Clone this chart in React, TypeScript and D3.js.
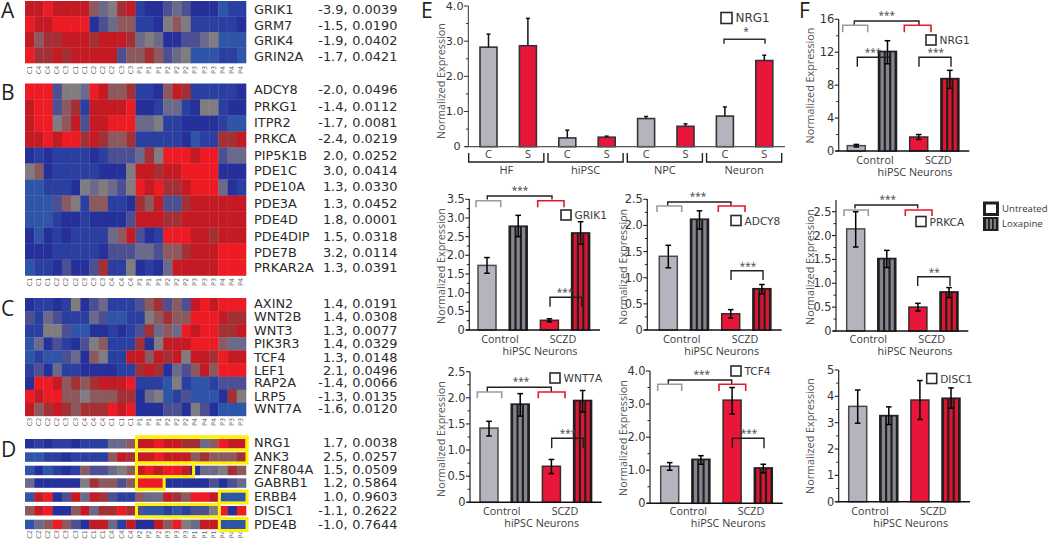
import React from "react";
import * as d3 from "d3";

// ---------- heat-map data (0 = deep blue ... 9 = bright red) ----------
const genesA = ["GRIK1", "GRM7", "GRIK4", "GRIN2A"];
const foldA = ["-3.9", "-1.5", "-1.9", "-1.7"];
const pA = ["0.0039", "0.0190", "0.0402", "0.0421"];
const colsA = ["C1","C4","C4","C4","C3","C1","C1","C2","C2","C2","C3","C3","P1","P1","P1","P2","P2","P2","P3","P3","P3","P4","P4","P4"];
const heatA = [
  [8,8,9,8,8,8,8,6,4,5,7,8,1,0,0,3,4,3,0,0,0,2,1,1],
  [9,8,8,9,9,9,9,0,3,4,6,6,1,1,0,5,6,5,1,1,1,1,1,0],
  [8,6,7,7,8,8,8,7,8,8,8,7,4,5,4,0,0,3,3,4,5,2,2,2],
  [9,7,7,8,7,8,8,8,8,8,3,6,6,7,6,3,4,5,2,2,2,1,1,2],
];
const genesB = ["ADCY8","PRKG1","ITPR2","PRKCA","PIP5K1B","PDE1C","PDE10A","PDE3A","PDE4D","PDE4DIP","PDE7B","PRKAR2A"];
const foldB = ["-2.0","-1.4","-1.7","-2.4","2.0","3.0","1.3","1.3","1.8","1.5","3.2","1.3"];
const pB = ["0.0496","0.0112","0.0081","0.0219","0.0252","0.0414","0.0330","0.0452","0.0001","0.0318","0.0114","0.0391"];
const colsB = ["C1","C1","C1","C2","C2","C2","C3","C3","C3","C4","C4","C4","P1","P1","P1","P2","P2","P2","P3","P3","P3","P4","P4","P4"];
const heatB = [
  [9,9,9,3,5,5,4,9,8,6,6,7,1,1,0,6,8,7,1,1,1,1,1,0],
  [8,9,9,3,6,7,1,8,8,8,8,9,0,0,1,4,4,1,0,5,5,1,0,0],
  [8,9,9,5,6,8,3,8,8,9,9,9,4,4,5,1,1,0,0,0,0,1,2,2],
  [8,8,9,8,9,9,7,8,7,6,6,7,1,1,1,1,1,0,2,1,1,7,7,8],
  [0,1,0,1,1,1,1,0,1,3,3,3,4,7,5,9,9,9,8,9,9,3,4,4],
  [5,6,0,1,1,1,1,1,0,0,0,5,8,8,7,8,8,9,9,9,9,0,0,0],
  [2,2,1,1,1,0,5,4,5,4,3,5,9,8,9,7,7,8,9,9,9,4,0,1],
  [2,2,2,3,6,5,1,6,6,1,1,0,7,6,8,3,3,7,8,8,8,8,8,8],
  [2,2,2,1,0,0,1,0,0,0,0,3,8,8,8,7,7,8,8,8,8,8,8,8],
  [0,2,0,1,0,1,1,1,1,4,6,8,3,0,1,9,9,9,8,8,7,8,8,8],
  [0,0,0,1,1,1,1,1,0,3,3,3,4,4,3,6,6,7,8,8,8,9,9,9],
  [2,1,1,0,3,0,0,3,7,1,1,5,0,1,0,4,8,8,8,8,8,9,9,9],
];
const genesC = ["AXIN2","WNT2B","WNT3","PIK3R3","TCF4","LEF1","RAP2A","LRP5","WNT7A"];
const foldC = ["1.4","1.4","1.3","1.4","1.3","2.1","-1.4","-1.3","-1.6"];
const pC = ["0.0191","0.0308","0.0077","0.0329","0.0148","0.0496","0.0066","0.0135","0.0120"];
const colsC = ["C3","C2","C2","C2","C3","C3","C4","C4","C4","C1","C1","C1","P1","P1","P1","P2","P2","P2","P4","P4","P4","P3","P3","P3"];
const heatC = [
  [0,1,1,0,1,5,0,3,4,1,1,1,3,6,7,3,6,3,8,9,8,9,9,9],
  [3,1,4,3,1,1,1,4,3,2,2,1,1,5,6,7,6,6,9,9,9,8,7,7],
  [1,1,5,5,3,2,2,0,0,1,0,1,3,7,4,6,4,9,8,9,9,7,7,8],
  [2,4,0,3,1,0,3,5,6,1,1,1,7,0,5,8,8,8,9,9,9,6,4,4],
  [2,1,2,2,3,4,0,6,5,1,1,8,8,6,8,7,8,5,8,8,7,9,8,8],
  [1,3,0,4,1,1,0,0,0,0,1,1,7,8,7,0,4,3,6,8,6,9,9,9],
  [0,9,9,8,6,7,6,7,8,8,8,9,1,1,1,2,5,1,2,2,1,3,3,3],
  [9,8,9,9,6,6,5,6,6,6,7,7,0,4,5,2,1,3,2,2,2,0,7,5],
  [8,6,7,8,7,6,7,7,7,9,8,9,0,0,0,3,3,0,5,3,0,2,2,2],
];
const genesD = ["NRG1","ANK3","ZNF804A","GABRB1","ERBB4","DISC1","PDE4B"];
const foldD = ["1.7","2.5","1.5","1.2","1.0","-1.1","-1.0"];
const pD = ["0.0038","0.0257","0.0509","0.5864","0.9603","0.2622","0.7644"];
const colsD = ["C2","C2","C2","C3","C3","C3","C1","C1","C1","C4","C4","C4","P2","P2","P2","P3","P3","P3","P1","P1","P1","P4","P4","P4"];
const heatD = [
  [0,1,0,1,1,0,1,1,1,4,4,6,8,8,9,8,8,7,7,4,6,9,8,8],
  [2,2,1,1,0,1,1,1,1,6,8,7,8,8,9,8,8,8,6,7,6,6,6,7],
  [2,0,2,1,0,1,6,3,3,4,5,6,8,9,8,9,9,8,0,4,4,5,7,6],
  [4,0,0,0,0,0,5,7,6,6,3,6,9,9,9,0,0,0,0,0,3,0,3,4],
  [2,8,9,0,3,8,4,8,7,3,1,1,6,4,4,8,7,6,9,9,8,2,2,2],
  [6,8,9,0,0,6,8,4,7,7,9,7,3,2,2,1,2,1,3,3,5,9,0,9],
  [2,4,6,9,6,3,0,8,8,4,1,8,0,0,8,6,9,5,4,8,8,2,2,2],
];

// ---------- bar data ----------
const groupsE = ["HF", "hiPSC", "NPC", "Neuron"];
const stageBars = ["C", "S", "C", "S", "C", "S", "C", "S"];
const nrg1Stage = [2.83, 2.87, 0.25, 0.27, 0.8, 0.58, 0.87, 2.45];
const nrg1StageTop = [3.2, 3.65, 0.47, 0.3, 0.86, 0.65, 1.13, 2.6];

const treatBars = ["Control", "Control+Lox", "SCZD", "SCZD+Lox"];
const grik1 = [1.73, 2.78, 0.26, 2.6];
const grik1Lo = [1.52, 2.5, 0.22, 2.3];
const grik1Hi = [1.94, 3.07, 0.3, 2.9];
const adcy8 = [1.41, 2.12, 0.31, 0.79];
const adcy8Lo = [1.19, 1.93, 0.23, 0.69];
const adcy8Hi = [1.62, 2.28, 0.39, 0.87];
const wnt7a = [1.42, 1.88, 0.69, 1.95];
const wnt7aLo = [1.27, 1.65, 0.55, 1.73];
const wnt7aHi = [1.55, 2.08, 0.82, 2.14];
const tcf4 = [1.12, 1.33, 3.12, 1.07];
const tcf4Lo = [1.0, 1.18, 2.7, 0.92];
const tcf4Hi = [1.23, 1.44, 3.5, 1.18];
const nrg1F = [0.65, 12.1, 1.7, 8.8];
const nrg1FLo = [0.5, 10.6, 1.4, 7.6];
const nrg1FHi = [0.8, 13.4, 2.0, 9.8];
const prkca = [2.14, 1.52, 0.5, 0.82];
const prkcaLo = [1.76, 1.33, 0.42, 0.7];
const prkcaHi = [2.5, 1.69, 0.58, 0.91];
const disc1 = [3.62, 3.27, 3.86, 3.93];
const disc1Lo = [2.98, 2.93, 3.12, 3.55];
const disc1Hi = [4.24, 3.6, 4.6, 4.32];

// ---------- styles ----------
const SANS = "'Open Sans', 'Noto Sans', sans-serif";
const DEJA = "'DejaVu Sans', Verdana, sans-serif";
const TXT = "#3a3a3a";
const GREY = "#b4b4be";
const RED = "#e8173a";
const DARK = "#231f20";

const heatColor = d3
  .scaleLinear<string>()
  .domain([0, 1, 2, 3, 4, 5, 6, 7, 8, 9])
  .range(["#26309a", "#2a3f9f", "#2f55a8", "#4d4f93", "#6b6a8a", "#807c80", "#8c5a5e", "#a33035", "#c41a24", "#ed1c24"]);

function Heat({ rows, cols, y0, rowH, labelY }: any) {
  const x = d3.scaleBand<number>().domain(d3.range(24)).range([25, 246]);
  const y = d3.scaleBand<number>().domain(d3.range(rows.length)).range([y0, y0 + rowH * rows.length]);
  return (
    <g>
      {rows.map((r: number[], i: number) => (
        <g key={i}>
          {r.map((v, j) => (
            <rect key={j} x={x(j)} y={y(i)} width={x.bandwidth() + 0.3} height={y.bandwidth() + 0.3} fill={heatColor(v)} />
          ))}
        </g>
      ))}
      {cols.map((c: string, j: number) => (
        <text key={j} transform={`translate(${x(j)! + x.bandwidth() / 2 + 2},${labelY}) rotate(-90)`} textAnchor="middle" fontFamily={DEJA} fontSize={6.5} fill="#666">
          {c}
        </text>
      ))}
    </g>
  );
}

function Stats({ genes, fold, p, ys }: any) {
  return (
    <g fontFamily={DEJA} fontSize={12.9} fill="#2b2b2b">
      {genes.map((g: string, i: number) => (
        <g key={g}>
          <text x={254} y={ys[i]} dominantBaseline="central">{g}</text>
          <text x={347.5} y={ys[i]} textAnchor="end" dominantBaseline="central">{fold[i]},</text>
          <text x={352.3} y={ys[i]} dominantBaseline="central">{p[i]}</text>
        </g>
      ))}
    </g>
  );
}

const Letter = ({ x, y, t }: any) => (
  <text x={x} y={y} fontFamily={SANS} fontSize={21} fill="#222">{t}</text>
);

function Bracket({ x1, x2, y, drop, color = DARK, w = 1.4 }: any) {
  const p = d3.path();
  p.moveTo(x1, y + drop);
  p.lineTo(x1, y);
  p.lineTo(x2, y);
  p.lineTo(x2, y + drop);
  return <path d={p.toString()} fill="none" stroke={color} strokeWidth={w} />;
}

const Stars = ({ x, y, t = "***" }: any) => (
  <text x={x} y={y + 4} textAnchor="middle" fontFamily={SANS} fontSize={10} fill="#444">{t}</text>
);

const LegendBox = ({ x, y, label, size = 10, fs = 10.6 }: any) => (
  <g>
    <rect x={x} y={y} width={size} height={size} fill="#fff" stroke="#2a2a2a" strokeWidth={1.6} />
    <text x={x + size + 3.5} y={y + size / 2} dominantBaseline="central" fontFamily={DEJA} fontSize={fs} fill={TXT}>{label}</text>
  </g>
);

function TreatPanel({ L, values, lo, hi, label }: any) {
  const y = d3.scaleLinear().domain([0, L.max]).range([L.y0, L.yTop]);
  const x = d3
    .scaleBand<string>()
    .domain(treatBars)
    .range([L.first, L.first + 3 * L.step + 18])
    .paddingInner((L.step - 18) / L.step);
  const w = x.bandwidth();
  const minor = L.majors.slice(0, -1).map((m: number, i: number) => (m + L.majors[i + 1]) / 2);
  return (
    <g>
      {treatBars.map((b, i) => {
        const X = x(b)!;
        const top = y(values[i]);
        const h = L.y0 - top;
        const base = i < 2 ? GREY : RED;
        const striped = i % 2 === 1;
        return (
          <g key={b}>
            <rect x={X} y={top} width={w} height={h} fill={striped ? DARK : base} stroke={i === 0 ? "#4a4a4a" : i === 2 ? "#3a2a2a" : DARK} strokeWidth={1.5} />
            {striped && [0.11, 0.41, 0.71].map((f) => (
              <rect key={f} x={X + f * w} y={top + 1} width={w * 0.18} height={h - 1} fill={i === 1 ? "#85858f" : "#dc1630"} />
            ))}
            <line x1={X + w / 2} x2={X + w / 2} y1={y(lo[i])} y2={y(hi[i])} stroke="#000" strokeWidth={1.5} />
            <line x1={X + w / 2 - 2.8} x2={X + w / 2 + 2.8} y1={y(hi[i])} y2={y(hi[i])} stroke="#000" strokeWidth={1.5} />
            <line x1={X + w / 2 - 2.8} x2={X + w / 2 + 2.8} y1={y(lo[i])} y2={y(lo[i])} stroke="#000" strokeWidth={1.5} />
          </g>
        );
      })}
      <line x1={L.ax} x2={L.ax} y1={L.y0} y2={L.axTop} stroke="#222" strokeWidth={1.2} />
      <line x1={L.ax - 3} x2={L.bx} y1={L.y0} y2={L.y0} stroke="#111" strokeWidth={1.5} />
      {L.majors.map((t: number) => (
        <g key={t}>
          <line x1={L.ax - 4} x2={L.ax} y1={y(t)} y2={y(t)} stroke="#222" strokeWidth={1.1} />
          <text x={L.ax - 4.5} y={y(t)} textAnchor="end" dominantBaseline="central" fontFamily={DEJA} fontSize={11.4} fill="#333">
            {t === 0 ? "0" : L.fmt ? d3.format(L.fmt)(t) : t}
          </text>
        </g>
      ))}
      {minor.map((t: number) => (
        <line key={t} x1={L.ax - 2.5} x2={L.ax} y1={y(t)} y2={y(t)} stroke="#222" strokeWidth={1} />
      ))}
      <text transform={`translate(${L.yl[0]},${L.yl[1]}) rotate(-90)`} textAnchor="middle" dominantBaseline="central" fontFamily={SANS} fontSize={10.8} fill="#555">
        Normalized Expression
      </text>
      <text x={L.ctl} y={L.cy} textAnchor="middle" dominantBaseline="central" fontFamily={SANS} fontSize={10.8} fill={TXT}>Control</text>
      <text x={L.scz} y={L.cy} textAnchor="middle" dominantBaseline="central" fontFamily={SANS} fontSize={10.8} fill={TXT}>SCZD</text>
      <text x={L.hip} y={L.cy + 12.5} textAnchor="middle" dominantBaseline="central" fontFamily={SANS} fontSize={10.8} fill={TXT}>hiPSC Neurons</text>
      {L.top && (
        <g>
          <Bracket {...L.top} />
          <Stars x={L.top.sx} y={L.top.y - 6} />
          <Bracket {...L.gb} color="#9a9aa2" w={1.6} />
          <Bracket {...L.rb} color="#e8162a" w={1.6} />
        </g>
      )}
      {(L.lower || []).map((b: any, i: number) => (
        <g key={i}>
          <Bracket {...b} />
          <Stars x={b.sx} y={b.y - 5} t={b.t} />
        </g>
      ))}
      <LegendBox x={L.lg[0]} y={L.lg[1]} label={label} />
    </g>
  );
}

const panelGRIK1 = {
  ax: 469.3, axTop: 199, y0: 330, yTop: 199.3, max: 3.5, majors: [0, 0.5, 1, 1.5, 2, 2.5, 3, 3.5], fmt: ".1f",
  bx: 600, first: 478, step: 31.2, yl: [440, 266], ctl: 500, scz: 563, hip: 540, cy: 338,
  top: { x1: 487.3, x2: 552, y: 196, drop: 3.6, sx: 520 },
  gb: { x1: 476, x2: 500.7, y: 200.7, drop: 6.5 }, rb: { x1: 537.7, x2: 564, y: 200.7, drop: 6.5 },
  lower: [{ x1: 550, x2: 581.7, y: 297.3, drop: 9.4, sx: 565 }], lg: [561, 210],
};
const panelADCY8 = {
  ax: 647.3, axTop: 199, y0: 330, yTop: 199.3, max: 2.5, majors: [0, 0.5, 1, 1.5, 2, 2.5], fmt: ".1f",
  bx: 781.7, first: 659.3, step: 31.2, yl: [622, 266.7], ctl: 681.7, scz: 745, hip: 721.7, cy: 338,
  top: { x1: 667.7, x2: 731, y: 202, drop: 3.5, sx: 698 },
  gb: { x1: 657, x2: 681.7, y: 206, drop: 6 }, rb: { x1: 718.3, x2: 745, y: 206, drop: 6 },
  lower: [{ x1: 731, x2: 763, y: 270.7, drop: 9.3, sx: 748 }], lg: [731, 215.5],
};
const panelWNT7A = {
  ax: 470, axTop: 371.7, y0: 502.3, yTop: 371.7, max: 2.5, majors: [0, 0.5, 1, 1.5, 2, 2.5], fmt: ".1f",
  bx: 601.7, first: 480, step: 31.2, yl: [440.7, 439], ctl: 501.7, scz: 565, hip: 541.7, cy: 510,
  top: { x1: 487.3, x2: 551.3, y: 387.3, drop: 4.7, sx: 521 },
  gb: { x1: 477.3, x2: 501.7, y: 392, drop: 6.3 }, rb: { x1: 538.3, x2: 565, y: 392, drop: 6.3 },
  lower: [{ x1: 551.7, x2: 583.3, y: 438.3, drop: 10, sx: 568 }], lg: [550, 373],
};
const panelTCF4 = {
  ax: 650, axTop: 371, y0: 503.3, yTop: 371, max: 4, majors: [0, 1, 2, 3, 4], fmt: ".1f",
  bx: 782.7, first: 660.7, step: 31.2, yl: [622.3, 438], ctl: 688.3, scz: 751, hip: 728.3, cy: 510,
  top: { x1: 668.3, x2: 731.7, y: 380, drop: 5, sx: 701.7 },
  gb: { x1: 657.7, x2: 681.7, y: 384.3, drop: 6.7 }, rb: { x1: 719, x2: 745.7, y: 384.3, drop: 6.7 },
  lower: [{ x1: 732.3, x2: 764, y: 438.3, drop: 10, sx: 749 }], lg: [731, 366],
};
const panelNRG1 = {
  ax: 838.7, axTop: 19.3, y0: 151, yTop: 19.3, max: 16, majors: [0, 4, 8, 12, 16],
  bx: 969.3, first: 847.3, step: 31.2, yl: [809.3, 85.5], ctl: 875, scz: 938.3, hip: 915, cy: 159.3,
  top: { x1: 854.3, x2: 919, y: 21, drop: 4, sx: 886.7 },
  gb: { x1: 842.7, x2: 867.7, y: 25.3, drop: 7 }, rb: { x1: 904.3, x2: 931, y: 25.3, drop: 7 },
  lower: [{ x1: 857.3, x2: 890, y: 57.3, drop: 9.4, sx: 873 }, { x1: 919, x2: 951, y: 57.3, drop: 9.4, sx: 935.7 }], lg: [926, 35],
};
const panelPRKCA = {
  ax: 836, axTop: 200, y0: 331, yTop: 211.7, max: 2.5, majors: [0, 0.5, 1, 1.5, 2, 2.5], fmt: ".1f",
  bx: 968.3, first: 846.7, step: 31.1, yl: [809.3, 267], ctl: 868.3, scz: 931.7, hip: 915, cy: 338.3,
  top: { x1: 855, x2: 917.7, y: 205, drop: 3.5, sx: 887.7 },
  gb: { x1: 844, x2: 868.3, y: 210, drop: 6 }, rb: { x1: 905.3, x2: 932, y: 210, drop: 6 },
  lower: [{ x1: 917.7, x2: 950, y: 276.7, drop: 9.3, sx: 934.3, t: "**" }], lg: [916, 216.5],
};
const panelDISC1 = {
  ax: 838.7, axTop: 370, y0: 501.7, yTop: 370, max: 5, majors: [0, 1, 2, 3, 4, 5],
  bx: 970, first: 848.7, step: 31.1, yl: [809.3, 436], ctl: 870, scz: 933.3, hip: 910.7, cy: 510,
  lg: [926.7, 373.5],
};

function StagePanel() {
  const y = d3.scaleLinear().domain([0, 4]).range([146.7, 6]);
  const x = d3.scaleBand<number>().domain(d3.range(8)).range([480, 480 + 7 * 39.4 + 17]).paddingInner((39.4 - 17) / 39.4);
  const groupX = d3.scaleBand<string>().domain(groupsE).range([468.7, 781.7]).paddingInner(0.052);
  return (
    <g>
      {stageBars.map((b, i) => {
        const X = x(i)!;
        const cx = X + x.bandwidth() / 2;
        return (
          <g key={i}>
            <rect x={X} y={y(nrg1Stage[i])} width={x.bandwidth()} height={146.7 - y(nrg1Stage[i])} fill={b === "C" ? GREY : RED} stroke="#333" strokeWidth={1.6} />
            <line x1={cx} x2={cx} y1={y(nrg1Stage[i])} y2={y(nrg1StageTop[i])} stroke="#111" strokeWidth={1.5} />
            <line x1={cx - 2} x2={cx + 2} y1={y(nrg1StageTop[i])} y2={y(nrg1StageTop[i])} stroke="#111" strokeWidth={1.5} />
            <text x={cx} y={153.5} textAnchor="middle" dominantBaseline="central" fontFamily={SANS} fontSize={11} fill={TXT}>{b}</text>
          </g>
        );
      })}
      <line x1={468.3} x2={468.3} y1={146.7} y2={6} stroke="#333" strokeWidth={1} />
      <line x1={465} x2={785} y1={146.7} y2={146.7} stroke="#555" strokeWidth={1.2} />
      {[0, 0.5, 1, 1.5, 2, 2.5, 3, 3.5, 4].map((t) => (
        <line key={t} x1={t % 1 === 0 ? 464 : 466} x2={468.3} y1={y(t)} y2={y(t)} stroke="#333" strokeWidth={1} />
      ))}
      {[0, 1, 2, 3, 4].map((t) => (
        <text key={t} x={t === 0 ? 460.5 : 463.5} y={y(t)} textAnchor="end" dominantBaseline="central" fontFamily={DEJA} fontSize={11.2} fill="#333">
          {t === 0 ? "0" : d3.format(".1f")(t)}
        </text>
      ))}
      <text transform="translate(440.5,81) rotate(-90)" textAnchor="middle" dominantBaseline="central" fontFamily={SANS} fontSize={10.8} fill="#555">Normalized Expression</text>
      {groupsE.map((g) => {
        const gx = groupX(g)!;
        const bw = groupX.bandwidth();
        const p = d3.path();
        p.moveTo(gx, 153);
        p.lineTo(gx, 162);
        p.lineTo(gx + bw, 162);
        p.lineTo(gx + bw, 153);
        return (
          <g key={g}>
            <path d={p.toString()} fill="none" stroke="#222" strokeWidth={1.4} />
            <text x={gx + bw / 2} y={169.5} textAnchor="middle" dominantBaseline="central" fontFamily={SANS} fontSize={11} fill={TXT}>{g}</text>
          </g>
        );
      })}
      <Bracket x1={724} x2={765} y={39.3} drop={4.4} color="#333" w={1.5} />
      <Stars x={746} y={31} t="*" />
      <LegendBox x={721} y={12.5} label="NRG1" size={11} fs={12} />
    </g>
  );
}

function YellowBox({ x1, x2, y1, y2 }: any) {
  const x = d3.scaleLinear().domain([0, 24]).range([25, 246]);
  return <rect x={x(x1) + 1} y={y1} width={x(x2) - x(x1)} height={y2 - y1} fill="none" stroke="#fff200" strokeWidth={3} />;
}

export default function App() {
  return (
    <svg width={1050} height={540} style={{ position: "absolute", left: 0, top: 0, background: "#fff" }}>
      <Letter x={1} y={18} t="A" />
      <Letter x={1} y={100} t="B" />
      <Letter x={1} y={316} t="C" />
      <Letter x={1} y={457} t="D" />
      <Letter x={421} y={18} t="E" />
      <Letter x={799} y={18} t="F" />

      <Heat rows={heatA} cols={colsA} y0={1} rowH={15.5} labelY={70} />
      <Heat rows={heatB} cols={colsB} y0={83.5} rowH={16} labelY={282} />
      <Heat rows={heatC} cols={colsC} y0={298} rowH={13.1} labelY={422} />
      {heatD.map((r, i) => (
        <Heat key={i} rows={[r]} cols={i === 6 ? colsD : []} y0={[439, 452.3, 465.7, 478.3, 492.3, 506, 519.7][i]} rowH={9.2} labelY={534.5} />
      ))}
      <YellowBox x1={12} x2={24} y1={437} y2={463} />
      <YellowBox x1={12} x2={24} y1={437} y2={450} />
      <YellowBox x1={12} x2={18.2} y1={463} y2={476.5} />
      <YellowBox x1={12} x2={15} y1={476.5} y2={489.5} />
      <YellowBox x1={21} x2={24} y1={491} y2={503} />
      <YellowBox x1={12} x2={21} y1={504.5} y2={517} />
      <YellowBox x1={21} x2={24} y1={518.5} y2={530.5} />

      <Stats genes={genesA} fold={foldA} p={pA} ys={[9, 25, 40, 56]} />
      <Stats genes={genesB} fold={foldB} p={pB} ys={[89.5, 106, 122.7, 138.5, 155, 170.7, 186.7, 203.3, 219, 236, 252.3, 267.7]} />
      <Stats genes={genesC} fold={foldC} p={pC} ys={[303, 316.7, 330, 343, 357, 370, 382.7, 396, 408.7]} />
      <Stats genes={genesD} fold={foldD} p={pD} ys={[442.7, 456, 469.3, 482.7, 496, 510, 524]} />

      <StagePanel />
      <TreatPanel L={panelGRIK1} values={grik1} lo={grik1Lo} hi={grik1Hi} label="GRIK1" />
      <TreatPanel L={panelADCY8} values={adcy8} lo={adcy8Lo} hi={adcy8Hi} label="ADCY8" />
      <TreatPanel L={panelWNT7A} values={wnt7a} lo={wnt7aLo} hi={wnt7aHi} label="WNT7A" />
      <TreatPanel L={panelTCF4} values={tcf4} lo={tcf4Lo} hi={tcf4Hi} label="TCF4" />
      <TreatPanel L={panelNRG1} values={nrg1F} lo={nrg1FLo} hi={nrg1FHi} label="NRG1" />
      <TreatPanel L={panelPRKCA} values={prkca} lo={prkcaLo} hi={prkcaHi} label="PRKCA" />
      <TreatPanel L={panelDISC1} values={disc1} lo={disc1Lo} hi={disc1Hi} label="DISC1" />

      <rect x={984.5} y={203} width={13} height={11.5} fill="#fff" stroke={DARK} strokeWidth={3} />
      <rect x={983} y={217} width={15.5} height={14} fill={DARK} />
      {[0.2, 0.45, 0.7].map((f) => (
        <rect key={f} x={983 + f * 15.5} y={219} width={2} height={10} fill="#85858f" />
      ))}
      <text x={1002} y={208.5} dominantBaseline="central" fontFamily={SANS} fontSize={9.6} fill={TXT}>Untreated</text>
      <text x={1002} y={223} dominantBaseline="central" fontFamily={SANS} fontSize={9.6} fill={TXT}>Loxapine</text>
    </svg>
  );
}
